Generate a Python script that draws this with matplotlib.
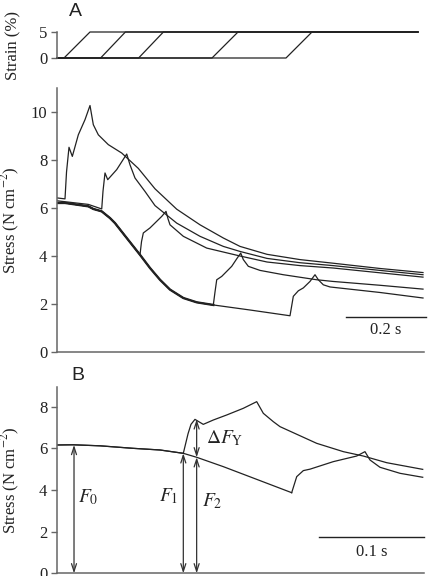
import numpy as np
import matplotlib
matplotlib.use("Agg")
import matplotlib.pyplot as plt

plt.rcParams['font.family'] = ['Liberation Serif', 'DejaVu Serif']
plt.rcParams['mathtext.fontset'] = 'stix'

# ---------------- data ----------------
# Strain protocol (panel A top): ramp start / end times (s)
strain_on = [0.0175, 0.109, 0.204, 0.3875, 0.5725]
strain_top = [0.0825, 0.171, 0.266, 0.4525, 0.6375]
strain_end = 0.9025
strain_levels = [0, 5]

# Panel A stress traces (time s, stress N cm-2)
tA_base = [0.0, 0.02, 0.0783, 0.0908, 0.1118, 0.1325, 0.145, 0.1743, 0.2075, 0.2325,
           0.2575, 0.2825, 0.3158, 0.3493, 0.3908, 0.4825, 0.5825]
sA_base = [6.21, 6.21, 6.07, 5.96, 5.86, 5.58, 5.37, 4.75, 4.05, 3.5,
           3.01, 2.6, 2.25, 2.07, 1.96, 1.75, 1.51]

tA1 = [0.0, 0.02, 0.0238, 0.03, 0.0383, 0.0533, 0.07, 0.0825, 0.0908, 0.1033,
       0.1283, 0.1618, 0.2033, 0.245, 0.2993, 0.3575, 0.4158, 0.4575, 0.525,
       0.6075, 0.69, 0.8075, 0.915]
sA1 = [6.42, 6.38, 7.5, 8.53, 8.15, 9.05, 9.68, 10.27, 9.47, 9.05,
       8.64, 8.29, 7.65, 6.8, 5.95, 5.30, 4.75, 4.40, 4.07,
       3.85, 3.70, 3.48, 3.31]

tA2 = [0.0, 0.0783, 0.1118, 0.115, 0.12, 0.1268, 0.1493, 0.1743, 0.1825, 0.195,
       0.22, 0.245, 0.2993, 0.3575, 0.4158, 0.4575, 0.525, 0.6075, 0.69, 0.8075, 0.915]
sA2 = [6.30, 6.15, 5.96, 6.7, 7.46, 7.18, 7.6, 8.25, 7.8, 7.25,
       6.69, 6.1, 5.37, 4.82, 4.40, 4.19, 3.90, 3.72, 3.60, 3.40, 3.22]

tA3 = [0.2075, 0.2113, 0.2158, 0.2325, 0.2618, 0.2725, 0.2775, 0.2825, 0.3158, 0.3743,
       0.4575, 0.525, 0.6075, 0.69, 0.8075, 0.915]
sA3 = [4.05, 4.6, 4.96, 5.17, 5.65, 5.86, 5.55, 5.30, 4.82, 4.33,
       4.0, 3.75, 3.60, 3.50, 3.30, 3.12]

tA4 = [0.3908, 0.395, 0.3993, 0.4118, 0.4368, 0.4508, 0.4593, 0.4658, 0.4783, 0.5075,
       0.5658, 0.6493, 0.69, 0.8075, 0.915]
sA4 = [1.96, 2.5, 3.01, 3.15, 3.57, 3.92, 4.12, 3.85, 3.57, 3.40,
       3.22, 3.01, 2.94, 2.78, 2.62]

tA5 = [0.5825, 0.5908, 0.6033, 0.6158, 0.6325, 0.645, 0.6533, 0.6658, 0.6825, 0.8075, 0.915]
sA5 = [1.51, 2.32, 2.55, 2.67, 2.94, 3.22, 3.01, 2.80, 2.71, 2.48, 2.25]

# Panel B (expanded time base)
tB_base = [0.0, 0.0152, 0.041, 0.0724, 0.0981, 0.1203, 0.133, 0.1584, 0.1902, 0.2235]
sB_base = [6.16, 6.17, 6.12, 6.0, 5.92, 5.76, 5.57, 5.12, 4.51, 3.87]

tB1 = [0.1203, 0.1248, 0.1276, 0.1314, 0.1393, 0.1489, 0.1616, 0.1774, 0.1902, 0.1965,
       0.206, 0.2124, 0.2473, 0.2727, 0.2917, 0.314, 0.3483]
sB1 = [5.76, 6.7, 7.15, 7.39, 7.15, 7.36, 7.6, 7.92, 8.24, 7.68,
       7.28, 7.04, 6.24, 5.84, 5.63, 5.31, 4.99]

tB2 = [0.2235, 0.2283, 0.2346, 0.241, 0.2631, 0.2854, 0.2933, 0.2981, 0.3076, 0.3267, 0.3483]
sB2 = [3.87, 4.64, 4.93, 5.0, 5.36, 5.63, 5.84, 5.44, 5.09, 4.8, 4.61]

# annotation values in panel B
F0_t, F0_val = 0.0162, 6.16
F1_t, F1_val = 0.1203, 5.76
F2_t, F2_val = 0.133, 5.57
FY_top = 7.39

# scale bars
barA = (0.7225, 0.9225, 1.46)
barB = (0.2498, 0.3495, 1.73)

# ---------------- figure ----------------
W, H = 428, 576
fig = plt.figure(figsize=(W / 100, H / 100), dpi=100)

LC = '#222222'
SC = '#666666'
lw = 0.9


def fx(px):
    return px / W


def fy(py):
    return 1 - py / H


left = fx(57)
width = 367 / W

ax_s = fig.add_axes([left, fy(58), width, 26 / H])
ax_a = fig.add_axes([left, fy(352), width, 264 / H])
ax_b = fig.add_axes([left, fy(573.3), width, (573.3 - 387) / H])

for ax in (ax_s, ax_a, ax_b):
    for sp in ('top', 'right'):
        ax.spines[sp].set_visible(False)
    for sp in ('left', 'bottom'):
        ax.spines[sp].set_color(SC)
        ax.spines[sp].set_linewidth(1.1)
    ax.tick_params(axis='y', direction='out', length=4, width=1, colors=SC,
                   labelcolor='#222222', labelsize=12, pad=3)
    ax.tick_params(axis='x', bottom=False, labelbottom=False)

# strain panel
ax_s.spines['bottom'].set_visible(False)
for on, top in zip(strain_on, strain_top):
    ax_s.plot([0, on, top, strain_end],
              [strain_levels[0], strain_levels[0], strain_levels[1], strain_levels[1]],
              color=LC, lw=lw, clip_on=False)
ax_s.set_xlim(0, 367 / 400)
ax_s.set_ylim(0, 5)
ax_s.set_yticks([0, 5])
ax_s.set_ylabel('Strain (%)', fontsize=12, color='#222222')
ax_s.yaxis.set_label_coords(-0.096, 0.5)

# panel A
tb = np.array(tA_base)
sb = np.array(sA_base)


def with_base(t, s):
    t = np.array(t)
    s = np.array(s)
    m = tb < t[0]
    return np.concatenate([tb[m], t]), np.concatenate([sb[m], s])


ax_a.plot(tA1, sA1, color=LC, lw=lw)
ax_a.plot(tA2, sA2, color=LC, lw=lw)
for t, s in ((tA3, sA3), (tA4, sA4), (tA5, sA5)):
    tt, ss = with_base(t, s)
    ax_a.plot(tt, ss, color=LC, lw=lw)
# overlapping isometric segment (three traces) looks heavier
mthick = tb <= tA4[0]
ax_a.plot(tb[mthick], sb[mthick], color=LC, lw=1.7)
ax_a.set_xlim(0, 367 / 400)
ax_a.set_ylim(0, 11)
ax_a.set_yticks([0, 2, 4, 6, 8, 10])
ax_a.set_ylabel('Stress (N cm$^{-2}$)', fontsize=12, color='#222222')
ax_a.yaxis.set_label_coords(-0.096, 0.5)
ax_a.plot([barA[0], barA[1]], [barA[2], barA[2]], color=LC, lw=1, clip_on=False)
ax_a.text((barA[0] + barA[1]) / 2, barA[2] - 0.53, '0.2 s', fontsize=12,
          ha='center', va='center', color='#222222')

# panel B
tbb = np.array(tB_base)
sbb = np.array(sB_base)
ax_b.plot(tbb, sbb, color=LC, lw=lw)
m = tbb < tB1[0]
ax_b.plot(np.concatenate([tbb[m], tB1]), np.concatenate([sbb[m], sB1]), color=LC, lw=lw)
ax_b.plot(tB2, sB2, color=LC, lw=lw)
ax_b.set_xlim(0, 367 / 1050)
ax_b.set_ylim(0, (573.3 - 387) / 20.83)
ax_b.set_yticks([0, 2, 4, 6, 8])
ax_b.set_ylabel('Stress (N cm$^{-2}$)', fontsize=12, color='#222222')
ax_b.yaxis.set_label_coords(-0.096, 0.5)
ax_b.plot([barB[0], barB[1]], [barB[2], barB[2]], color=LC, lw=1, clip_on=False)
ax_b.text((barB[0] + barB[1]) / 2, barB[2] - 0.69, '0.1 s', fontsize=12,
          ha='center', va='center', color='#222222')

aprops = dict(arrowstyle='<->,head_length=0.55,head_width=0.18', lw=0.9,
              color='#333333', shrinkA=0, shrinkB=0)
for (t, y0, y1) in ((F0_t, 0, F0_val), (F1_t, 0, F1_val), (F2_t, 0, F2_val),
                    (F2_t, F2_val, FY_top)):
    ax_b.annotate('', xy=(t, y1), xytext=(t, y0), arrowprops=aprops,
                  annotation_clip=False)

ax_b.text(0.030, 3.65, '$F_0$', fontsize=14, ha='center', va='center', color='#222222')
ax_b.text(0.1067, 3.68, '$F_1$', fontsize=14, ha='center', va='center', color='#222222')
ax_b.text(0.1475, 3.44, '$F_2$', fontsize=14, ha='center', va='center', color='#222222')
ax_b.text(0.1415, 6.5, r'$\Delta F_{\mathrm{Y}}$', fontsize=14, ha='left', va='center',
          color='#222222')

fig.text(fx(75), fy(11), 'A', fontsize=14, family='Liberation Sans', ha='center',
         va='center', color='#222222')
fig.text(fx(78), fy(376), 'B', fontsize=14, family='Liberation Sans', ha='center',
         va='center', color='#222222')

fig.savefig('out.png', dpi=100)
